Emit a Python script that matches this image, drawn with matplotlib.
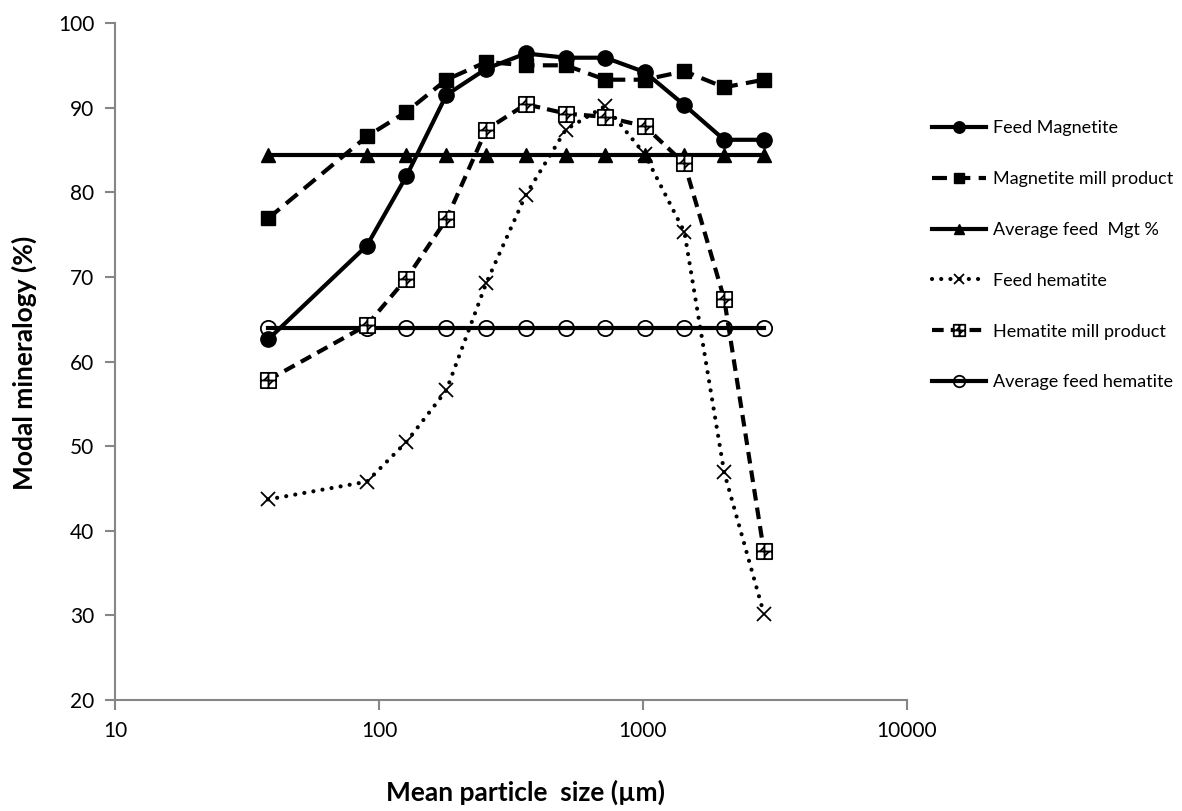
import matplotlib
matplotlib.use("Agg")
import matplotlib.pyplot as plt
from matplotlib.path import Path

# ---------------- data ----------------
sizes = [38, 90, 127, 180, 255, 360, 510, 720, 1015, 1435, 2030, 2870]
feed_magnetite = [62.6, 73.7, 81.9, 91.5, 94.6, 96.4, 95.9, 95.9, 94.2, 90.3, 86.2, 86.2]
magnetite_mill = [76.9, 86.6, 89.5, 93.3, 95.4, 95.0, 95.0, 93.3, 93.3, 94.3, 92.4, 93.3]
avg_feed_mgt = [84.4] * 12
feed_hematite = [43.7, 45.8, 50.5, 56.6, 69.3, 79.7, 87.4, 90.2, 84.5, 75.3, 46.9, 30.2]
hematite_mill = [57.8, 64.3, 69.8, 76.8, 87.4, 90.4, 89.3, 88.9, 87.8, 83.4, 67.4, 37.6]
avg_feed_hem = [63.9] * 12

labels = ["Feed Magnetite", "Magnetite mill product", "Average feed  Mgt %",
          "Feed hematite", "Hematite mill product", "Average feed hematite"]
x_ticks = [10, 100, 1000, 10000]
x_ticklabels = ["10", "100", "1000", "10000"]
y_ticks = [20, 30, 40, 50, 60, 70, 80, 90, 100]
x_title = "Mean particle  size (\u00b5m)"
y_title = "Modal mineralogy (%)"

# ---------------- style ----------------
plt.rcParams['font.family'] = ['Lato', 'DejaVu Sans']
fig = plt.figure(figsize=(11.82, 8.11), dpi=100)
ax = fig.add_axes([115/1182, 1 - 700/811, (907-115)/1182, (700-23)/811])

# hatched-square marker for hematite mill product
verts = [(-0.5, -0.5), (0.5, -0.5), (0.5, 0.5), (-0.5, 0.5), (-0.5, -0.5),
         (-0.5, 0.0), (0.5, 0.0),
         (0.0, -0.5), (0.0, 0.5),
         (-0.3, 0.0), (0.0, 0.3),
         (0.0, -0.3), (0.3, 0.0)]
codes = [Path.MOVETO, Path.LINETO, Path.LINETO, Path.LINETO, Path.CLOSEPOLY,
         Path.MOVETO, Path.LINETO,
         Path.MOVETO, Path.LINETO,
         Path.MOVETO, Path.LINETO,
         Path.MOVETO, Path.LINETO]
box_marker = Path(verts, codes)

lw = 3.0
h1, = ax.plot(sizes, feed_magnetite, color='black', lw=lw, marker='o', ms=11,
              mfc='black', mec='black', label=labels[0], zorder=5)
h2, = ax.plot(sizes, magnetite_mill, color='black', lw=lw, ls=(0, (3.6, 2.0)),
              dash_capstyle='butt', marker='s', ms=10.5, mfc='black', mec='black',
              label=labels[1], zorder=4)
h3, = ax.plot(sizes, avg_feed_mgt, color='black', lw=lw, marker='^', ms=10,
              mfc='black', mec='black', label=labels[2], zorder=3)
h4, = ax.plot(sizes, feed_hematite, color='black', lw=3.0, ls=(0, (0.01, 2.2)),
              dash_capstyle='round', marker='x', ms=10, mew=1.3, mec='black',
              label=labels[3], zorder=3)
h5, = ax.plot(sizes, hematite_mill, color='black', lw=lw, ls=(0, (2.8, 1.7)),
              dash_capstyle='butt', marker=box_marker, ms=11, mfc='white',
              mec='black', mew=1.3, label=labels[4], zorder=4)
h6, = ax.plot(sizes, avg_feed_hem, color='black', lw=lw, marker='o', ms=11,
              mfc='none', mec='black', mew=1.3, label=labels[5], zorder=3)

ax.set_xscale('log')
ax.set_xlim(10, 10000)
ax.set_ylim(20, 100)
ax.set_xticks(x_ticks)
ax.set_xticklabels(x_ticklabels)
ax.xaxis.set_minor_locator(matplotlib.ticker.NullLocator())
ax.set_yticks(y_ticks)

grey = '#868686'
for s in ['top', 'right']:
    ax.spines[s].set_visible(False)
for s in ['left', 'bottom']:
    ax.spines[s].set_color(grey)
    ax.spines[s].set_linewidth(1.5)
ax.tick_params(axis='both', which='major', direction='out', length=7, width=1.5,
               color=grey, labelsize=15, labelcolor='black', pad=8)

fig.text(525/1182, 1 - 801/811, x_title, fontsize=19, fontweight='bold',
         ha='center', va='baseline')
fig.text(24/1182, 1 - 363/811, y_title, fontsize=19, fontweight='bold',
         ha='center', va='center', rotation=90)

leg = fig.legend(handles=[h1, h2, h3, h4, h5, h6], loc='upper left',
                 bbox_to_anchor=(925/1182, 1 - 113/811), frameon=False,
                 fontsize=13, handlelength=3.0, handletextpad=0.35,
                 labelspacing=1.93, markerscale=0.75, borderaxespad=0)

fig.savefig("out.png", dpi=100)
